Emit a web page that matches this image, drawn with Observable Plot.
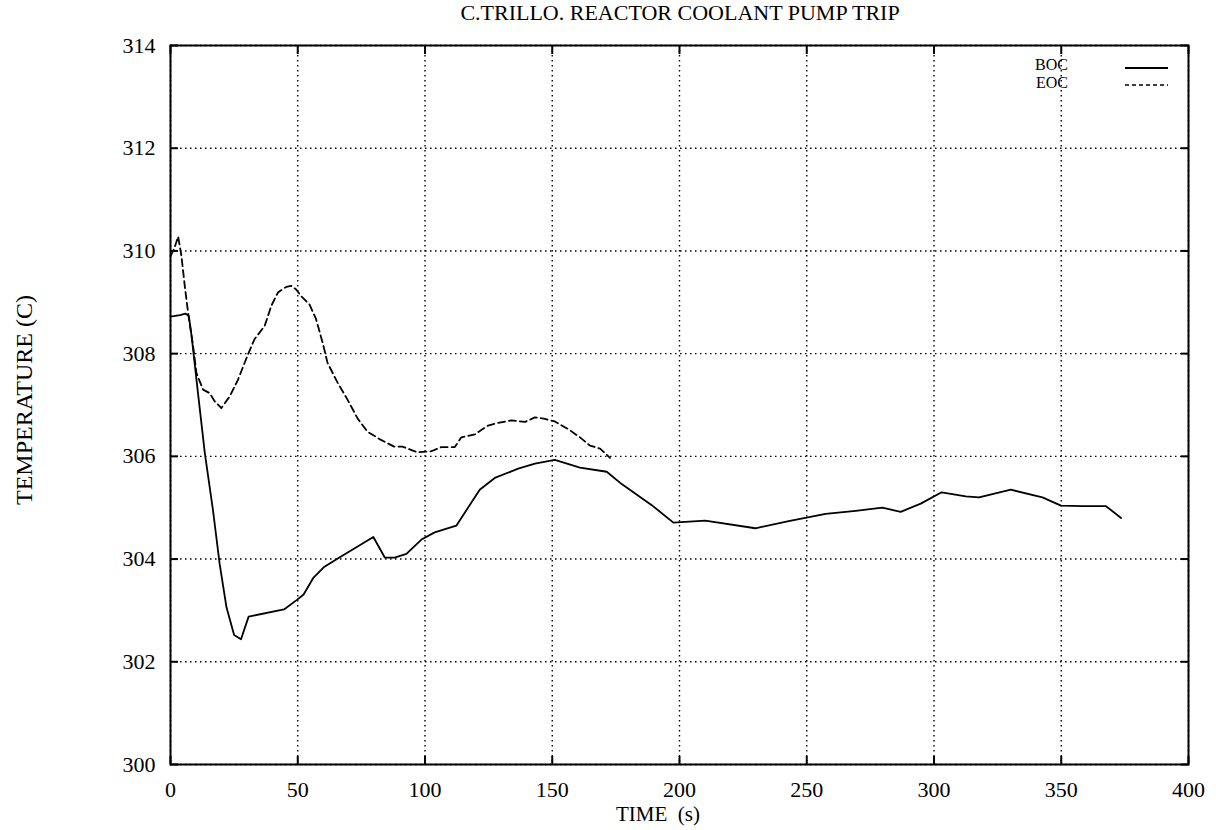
<!DOCTYPE html>
<html>
<head>
<meta charset="utf-8">
<script src="https://cdn.jsdelivr.net/npm/d3@7"></script>
<script src="https://cdn.jsdelivr.net/npm/@observablehq/plot@0.6"></script>
<style>
  html, body { margin: 0; padding: 0; background: #fff; overflow: hidden; }
  #wrap { position: relative; width: 1216px; height: 830px; font-family: "Liberation Serif", "DejaVu Serif", serif; color: #000; }
  #chart { position: absolute; left: 0; top: 0; }
  #chart text { font-family: "Liberation Serif", "DejaVu Serif", serif !important; font-size: 22px !important; fill: #000; }
  .ov { position: absolute; white-space: pre; line-height: 1; }
  #title { left: 680px; top: 2px; transform: translateX(-50%); font-size: 22px; }
  #xlabel { left: 658px; top: 804px; transform: translateX(-50%); font-size: 21px; }
  #ylabel { left: 24px; top: 400px; transform: translate(-50%, -50%) rotate(-90deg); font-size: 24px; }
  #legend { position: absolute; left: 1000px; top: 55px; }
</style>
</head>
<body>
<div id="wrap">
  <div class="ov" id="title">C.TRILLO. REACTOR COOLANT PUMP TRIP</div>
  <div class="ov" id="xlabel">TIME  (s)</div>
  <div class="ov" id="ylabel">TEMPERATURE (C)</div>
  <svg id="legend" width="190" height="45" font-family="Liberation Serif, serif" font-size="16">
    <text x="68" y="11" text-anchor="end" dominant-baseline="middle">BOC</text>
    <text x="68" y="29" text-anchor="end" dominant-baseline="middle">EOC</text>
    <line x1="125" x2="168" y1="13" y2="13" stroke="#000" stroke-width="1.8"></line>
    <line x1="125" x2="168" y1="30" y2="30" stroke="#000" stroke-width="1.5" stroke-dasharray="4,3"></line>
  </svg>
</div>
<script>
// Tick values
const xTicks = [0, 50, 100, 150, 200, 250, 300, 350, 400];
const yTicks = [300, 302, 304, 306, 308, 310, 312, 314];

// BOC series (solid)
const timeBOC = [0, 3.7, 5.9, 7.2, 8.3, 10.8, 13.5, 16.7, 19.3, 22, 25, 27.7, 30.7, 44.6, 49.8, 52.3, 56.2, 60.2, 65.4, 79.7, 84.2, 88.1, 92.7, 98.6, 103.8, 112.3, 121.5, 127.4, 136.6, 143.2, 151, 160.9, 171.4, 177.3, 189.1, 197.6, 210.1, 229.8, 242.9, 257.4, 269.2, 279.7, 286.9, 294.8, 303, 312.5, 317.7, 330.2, 342.6, 349.9, 358.4, 367.6, 373.5];
const tempBOC = [308.72, 308.75, 308.78, 308.73, 308.34, 307.23, 306.06, 304.95, 303.91, 303.06, 302.52, 302.44, 302.88, 303.02, 303.21, 303.31, 303.64, 303.84, 304.0, 304.43, 304.03, 304.03, 304.10, 304.38, 304.52, 304.65, 305.35, 305.58, 305.76, 305.86, 305.93, 305.78, 305.70, 305.46, 305.05, 304.71, 304.75, 304.6, 304.74, 304.88, 304.94, 305.0, 304.92, 305.08, 305.30, 305.22, 305.20, 305.35, 305.20, 305.04, 305.03, 305.03, 304.80];

// EOC series (dashed)
const timeEOC = [0, 1.5, 3.0, 4.3, 5.6, 6.9, 8.9, 10.2, 12.8, 15.4, 17.4, 20, 23.3, 26.5, 30.4, 33, 37, 39.6, 42.2, 45.5, 47.4, 49.4, 51.3, 54.6, 57.2, 59.8, 61.7, 65.7, 69.6, 73.5, 77.4, 82.7, 87.9, 91.1, 97, 102.5, 106.4, 111.7, 114.3, 119.6, 124.8, 128.7, 134, 139.3, 143.2, 147.1, 151, 156.3, 160.9, 164.8, 168.8, 172.7];
const tempEOC = [309.9, 310.05, 310.28, 309.9, 309.32, 308.8, 308.14, 307.62, 307.30, 307.23, 307.07, 306.94, 307.17, 307.49, 307.98, 308.28, 308.54, 308.93, 309.19, 309.30, 309.32, 309.25, 309.12, 308.96, 308.67, 308.21, 307.82, 307.43, 307.10, 306.74, 306.48, 306.32, 306.19, 306.19, 306.08, 306.1, 306.18, 306.18, 306.37, 306.43, 306.6, 306.65, 306.7, 306.67, 306.76, 306.73, 306.68, 306.53, 306.37, 306.21, 306.15, 305.97];

const boc = timeBOC.map((t, i) => ({t, v: tempBOC[i]}));
const eoc = timeEOC.map((t, i) => ({t, v: tempEOC[i]}));

const gridStyle = {stroke: "#000", strokeOpacity: 1, strokeWidth: 1.4, strokeDasharray: "1.5,3.5"};
const fmt = d => String(d);
const serif = "'Liberation Serif', serif";

const chart = Plot.plot({
  width: 1216,
  height: 830,
  marginLeft: 170,
  marginRight: 28,
  marginTop: 45,
  marginBottom: 66,
  style: {background: "transparent"},
  x: {domain: [0, 400], label: null},
  y: {domain: [300, 314], label: null},
  marks: [
    Plot.gridX(xTicks, gridStyle),
    Plot.gridY(yTicks, gridStyle),
    Plot.axisX(xTicks, {anchor: "bottom", tickSize: -8, tickPadding: 25, strokeWidth: 2, tickFormat: fmt, fontFamily: serif, fontSize: 22, label: null}),
    Plot.axisX(xTicks, {anchor: "top", tickSize: -8, tickFormat: () => "", strokeWidth: 2, label: null}),
    Plot.axisY(yTicks, {anchor: "left", tickSize: -8, tickPadding: 23, strokeWidth: 2, tickFormat: fmt, fontFamily: serif, fontSize: 22, label: null}),
    Plot.axisY(yTicks, {anchor: "right", tickSize: -8, tickFormat: () => "", strokeWidth: 2, label: null}),
    Plot.frame({stroke: "#000", strokeWidth: 2}),
    Plot.line(boc, {x: "t", y: "v", stroke: "#000", strokeWidth: 1.8}),
    Plot.line(eoc, {x: "t", y: "v", stroke: "#000", strokeWidth: 1.8, strokeDasharray: "7,4"})
  ]
});
chart.id = "chart";
const wrap = document.getElementById("wrap");
wrap.insertBefore(chart, wrap.firstChild);
</script>
</body>
</html>
